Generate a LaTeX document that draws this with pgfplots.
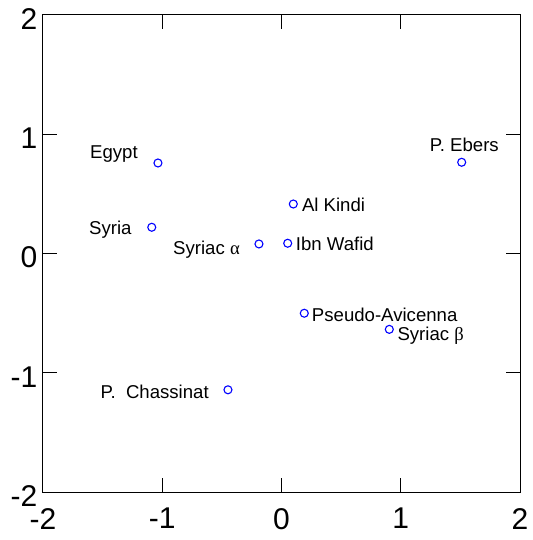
\documentclass[border=0pt]{standalone}
\usepackage{fontspec}
\setmainfont{Liberation Sans}
\newfontfamily\greek{Liberation Serif}
\usepackage{pgfplots}
\pgfplotsset{compat=1.18}
\newcommand{\ticks}{\fontsize{30}{30}\selectfont}
\newcommand{\lab}{\fontsize{18.6}{20}\selectfont}
\begin{document}
\begin{tikzpicture}
\begin{axis}[
  scale only axis, width=477pt, height=477pt,
  xmin=-2, xmax=2, ymin=-2, ymax=2,
  xtick={-2,-1,0,1,2}, ytick={-2,-1,0,1,2},
  xticklabels={-2,-1,0,1,2}, yticklabels={-2,-1,0,1,2},
  tick align=inside, major tick length=14pt,
  tick style={black, line width=1pt},
  axis line style={black, line width=1pt},
  xticklabel style={anchor=north, inner sep=0pt, yshift=-16pt, font=\ticks},
  yticklabel style={anchor=east, inner sep=0pt, xshift=-5.5pt, yshift=-4pt, font=\ticks},
  clip=false,
]
\addplot[only marks, mark=o, mark size=4pt, blue, mark options={line width=1.1pt}] coordinates {
  (-1.036,0.759) (-1.088,0.220) (-0.189,0.080) (0.052,0.086) (0.099,0.415)
  (1.511,0.765) (0.191,-0.501) (0.904,-0.636) (-0.449,-1.143)
};
\node[anchor=base east, inner sep=0pt, font=\lab] at ([shift={(-20pt,4pt)}]axis cs:-1.036,0.759) {Egypt};
\node[anchor=base east, inner sep=0pt, font=\lab] at ([shift={(-20pt,-7.7pt)}]axis cs:-1.088,0.220) {Syria};
\node[anchor=base east, inner sep=0pt, font=\lab] at ([shift={(-19pt,-11pt)}]axis cs:-0.189,0.080) {Syriac {\greek α}};
\node[anchor=base west, inner sep=0pt, font=\lab] at ([shift={(8.5pt,-7.7pt)}]axis cs:0.099,0.415) {Al Kindi};
\node[anchor=base west, inner sep=0pt, font=\lab] at ([shift={(8pt,-7.7pt)}]axis cs:0.052,0.086) {Ibn Wafid};
\node[anchor=base east, inner sep=0pt, font=\lab] at ([shift={(37.3pt,10.3pt)}]axis cs:1.511,0.765) {P. Ebers};
\node[anchor=base west, inner sep=0pt, font=\lab] at ([shift={(7.5pt,-8.7pt)}]axis cs:0.191,-0.501) {Pseudo-Avicenna};
\node[anchor=base west, inner sep=0pt, font=\lab] at ([shift={(8pt,-11.4pt)}]axis cs:0.904,-0.636) {Syriac {\greek β}};
\node[anchor=base east, inner sep=0pt, font=\lab] at ([shift={(-19pt,-9pt)}]axis cs:-0.449,-1.143) {P.\ \ Chassinat};
\end{axis}
\pgfresetboundingbox
\path[use as bounding box] ([shift={(-43pt,-48pt)}]current axis.south west) rectangle ([shift={(13pt,15pt)}]current axis.north east);
\end{tikzpicture}
\end{document}
